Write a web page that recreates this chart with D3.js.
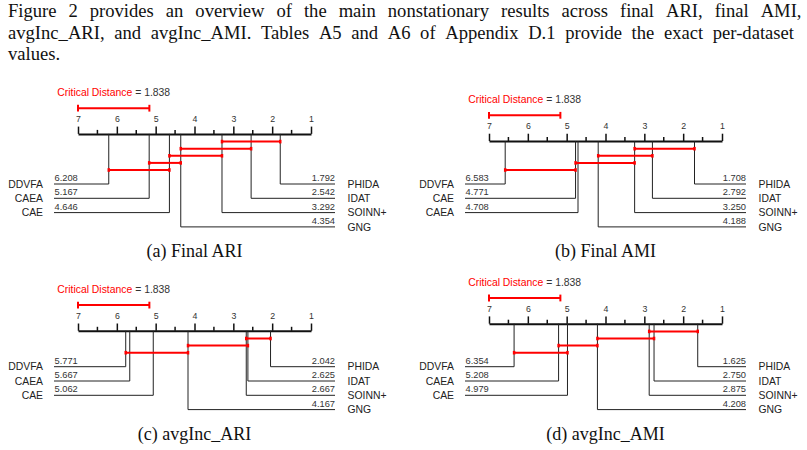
<!DOCTYPE html>
<html>
<head>
<meta charset="utf-8">
<script src="https://cdn.jsdelivr.net/npm/d3@7"></script>
<style>
  body { margin: 0; background: #fff; }
</style>
</head>
<body>
<div id="vis"></div>
<script>
// ---- data ----
const introLines = [
  "Figure 2 provides an overview of the main nonstationary results across final ARI, final AMI,",
  "avgInc_ARI, and avgInc_AMI. Tables A5 and A6 of Appendix D.1 provide the exact per-dataset",
  "values."
];
const panelTitles = ["(a) Final ARI", "(b) Final AMI", "(c) avgInc_ARI", "(d) avgInc_AMI"];
const leftNames = [
  ["DDVFA", "CAEA", "CAE"],
  ["DDVFA", "CAE", "CAEA"],
  ["DDVFA", "CAEA", "CAE"],
  ["DDVFA", "CAEA", "CAE"]
];
const leftRanks = [
  [6.208, 5.167, 4.646],
  [6.583, 4.771, 4.708],
  [5.771, 5.667, 5.062],
  [6.354, 5.208, 4.979]
];
const rightNames = [
  ["PHIDA", "IDAT", "SOINN+", "GNG"],
  ["PHIDA", "IDAT", "SOINN+", "GNG"],
  ["PHIDA", "IDAT", "SOINN+", "GNG"],
  ["PHIDA", "IDAT", "SOINN+", "GNG"]
];
const rightRanks = [
  [1.792, 2.542, 3.292, 4.354],
  [1.708, 2.792, 3.250, 4.188],
  [2.042, 2.625, 2.667, 4.167],
  [1.625, 2.750, 2.875, 4.208]
];
// groups not significantly different: [worst rank, best rank]
const cliques = [
  [[3.292, 1.792], [4.354, 2.542], [4.646, 3.292], [5.167, 4.354], [6.208, 4.646]],
  [[3.250, 1.708], [4.188, 2.792], [4.771, 3.250], [6.583, 4.771]],
  [[2.667, 2.042], [4.167, 2.625], [5.771, 4.167]],
  [[2.875, 1.625], [4.208, 2.750], [5.208, 4.208], [6.354, 4.979]]
];
const critDist = 1.838;
const rankTicks = [7, 6, 5, 4, 3, 2, 1];
const halfTicks = [6.5, 5.5, 4.5, 3.5, 2.5, 1.5];

// ---- layout ----
const W = 807, H = 450;
const panelLeft = [78, 489, 78, 489];
const panelRow = [184, 184, 366.7, 366.7];
const captionY = [257, 257, 440, 440];
const axisW = 233, rowGap = 14.3, cliqueGap = 7.1;
const sans = "'Liberation Sans', Arial, Helvetica, sans-serif";
const serif = "'Liberation Serif', 'Times New Roman', serif";
const red = "#ff0000", ink = "#222";

const svg = d3.select("#vis").append("svg")
    .attr("width", W)
    .attr("height", H);

// intro paragraph, justified word by word
function justify(line, y, x0, x1, last){
  const t = svg.append("text")
      .attr("y", y)
      .attr("font-family", serif)
      .attr("font-size", 18.6)
      .attr("fill", "#111");
  const words = line.split(" ");
  const spans = words.map(w => t.append("tspan").text(w));
  const widths = spans.map(s => s.node().getComputedTextLength());
  const total = d3.sum(widths);
  const gap = last ? 4.5 : (x1 - x0 - total) / (words.length - 1);
  let cx = x0;
  spans.forEach((s, i) => {
    s.attr("x", cx);
    cx += widths[i] + gap;
  });
}
justify(introLines[0], 17, 8, 801.5, false);
justify(introLines[1], 38.5, 8, 794, false);
justify(introLines[2], 59.5, 8, 794, true);

panelTitles.forEach((t, i) => drawPanel(i));

function drawPanel(i){
  const x = d3.scaleLinear().domain([7, 1]).range([panelLeft[i], panelLeft[i] + axisW]);
  const rowY = panelRow[i];
  const cl = cliques[i];
  const lastCliqueY = rowY - 14;
  const cliqueY = j => lastCliqueY - (cl.length - 1 - j) * cliqueGap;
  const axisY = cliqueY(0) - 7.7;
  const leftEnd = x(7) - 24, rightEnd = x(1) + 24;
  const g = svg.append("g");

  // axis
  const axis = d3.axisTop(x)
      .tickValues(rankTicks)
      .tickSize(7.3)
      .tickSizeOuter(0)
      .tickPadding(4.4)
      .tickFormat(d3.format("d"));
  const ga = g.append("g")
      .attr("transform", "translate(0," + axisY + ")")
      .call(axis);
  ga.select(".domain").attr("stroke", "#111").attr("stroke-width", 2);
  ga.selectAll(".tick line").attr("stroke", "#111").attr("stroke-width", 1.5);
  ga.selectAll(".tick text")
      .attr("font-family", sans)
      .attr("font-size", 8.8)
      .attr("fill", "#333");
  g.selectAll(".half")
      .data(halfTicks)
      .enter().append("line")
      .attr("x1", d => x(d)).attr("x2", d => x(d))
      .attr("y1", axisY - 4).attr("y2", axisY)
      .attr("stroke", "#111")
      .attr("stroke-width", 1.5);

  // critical distance
  const cdY = axisY - 25.7;
  const cdA = x(7), cdB = x(7 - critDist);
  g.append("line")
      .attr("x1", cdA).attr("x2", cdB)
      .attr("y1", cdY).attr("y2", cdY)
      .attr("stroke", red).attr("stroke-width", 2);
  g.selectAll(".cdcap")
      .data([cdA, cdB])
      .enter().append("line")
      .attr("x1", d => d).attr("x2", d => d)
      .attr("y1", cdY - 3.4).attr("y2", cdY + 3.4)
      .attr("stroke", red).attr("stroke-width", 2);
  const cdText = g.append("text")
      .attr("x", (cdA + cdB) / 2)
      .attr("y", axisY - 37.7)
      .attr("text-anchor", "middle")
      .attr("font-family", sans)
      .attr("font-size", 10.4);
  cdText.append("tspan").attr("fill", red).text("Critical Distance");
  cdText.append("tspan").attr("fill", "#333").text(" = " + d3.format(".3f")(critDist));

  // left methods
  leftRanks[i].forEach((r, k) => {
    const y = rowY + k * rowGap;
    g.append("path")
        .attr("d", "M" + x(r) + "," + axisY + "V" + y + "H" + leftEnd)
        .attr("fill", "none").attr("stroke", ink).attr("stroke-width", 1);
    g.append("text")
        .attr("x", leftEnd + 0.5).attr("y", y - 3)
        .attr("font-family", sans).attr("font-size", 9.3).attr("fill", "#333")
        .text(d3.format(".3f")(r));
    g.append("text")
        .attr("x", leftEnd - 11).attr("y", y + 3.7)
        .attr("text-anchor", "end")
        .attr("font-family", sans).attr("font-size", 10.4).attr("fill", ink)
        .text(leftNames[i][k]);
  });

  // right methods
  rightRanks[i].forEach((r, k) => {
    const y = rowY + k * rowGap;
    g.append("path")
        .attr("d", "M" + x(r) + "," + axisY + "V" + y + "H" + rightEnd)
        .attr("fill", "none").attr("stroke", ink).attr("stroke-width", 1);
    g.append("text")
        .attr("x", rightEnd).attr("y", y - 3)
        .attr("text-anchor", "end")
        .attr("font-family", sans).attr("font-size", 9.3).attr("fill", "#333")
        .text(d3.format(".3f")(r));
    g.append("text")
        .attr("x", rightEnd + 12.5).attr("y", y + 3.7)
        .attr("font-family", sans).attr("font-size", 10.4).attr("fill", ink)
        .text(rightNames[i][k]);
  });

  // cliques
  cl.forEach((c, j) => {
    const y = cliqueY(j);
    g.append("line")
        .attr("x1", x(c[0])).attr("x2", x(c[1]))
        .attr("y1", y).attr("y2", y)
        .attr("stroke", red).attr("stroke-width", 2);
    g.selectAll(null)
        .data(c)
        .enter().append("line")
        .attr("x1", d => x(d)).attr("x2", d => x(d))
        .attr("y1", y - 1.8).attr("y2", y + 1.8)
        .attr("stroke", red).attr("stroke-width", 2.5);
  });

  // caption
  g.append("text")
      .attr("x", (leftEnd + rightEnd) / 2)
      .attr("y", captionY[i])
      .attr("text-anchor", "middle")
      .attr("font-family", serif)
      .attr("font-size", 18)
      .attr("fill", "#111")
      .text(panelTitles[i]);
}
</script>
</body>
</html>
